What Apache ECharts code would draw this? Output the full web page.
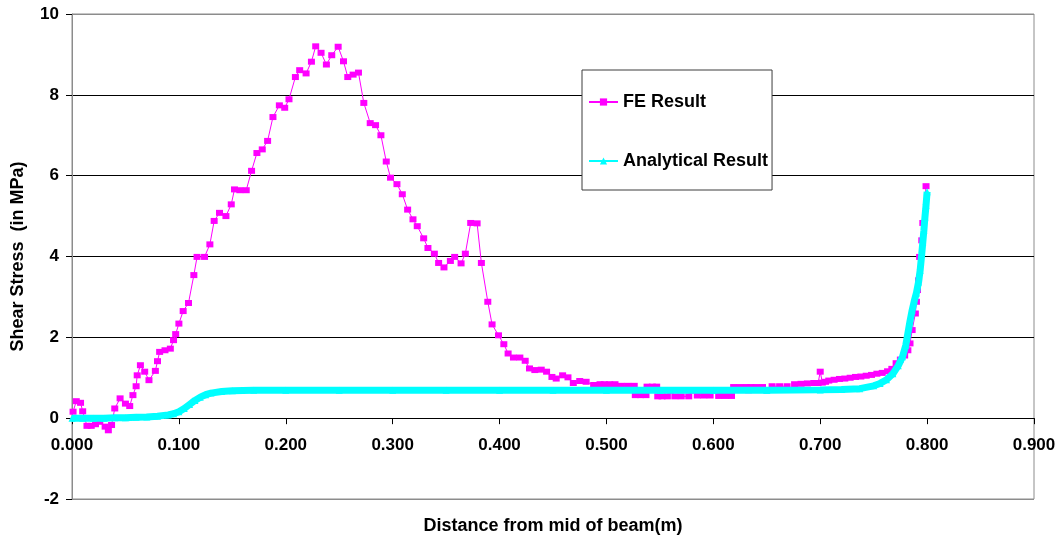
<!DOCTYPE html>
<html>
<head>
<meta charset="utf-8">
<script src="https://cdn.jsdelivr.net/npm/echarts@6/dist/echarts.min.js"></script>
<style>
  html, body { margin: 0; padding: 0; background: #ffffff; }
  #chart { width: 1060px; height: 543px; }
</style>
</head>
<body>
<div id="chart"></div>
<script>
// Shear stress along the beam: finite element result vs analytical solution
const feX = [
  0.001, 0.004, 0.008, 0.010, 0.014, 0.018, 0.022, 0.026, 0.031, 0.034,
  0.037, 0.040, 0.045, 0.050, 0.054, 0.057, 0.060, 0.061, 0.064, 0.068,
  0.072, 0.078, 0.080, 0.082, 0.087, 0.092, 0.095, 0.097, 0.100, 0.104,
  0.109, 0.114, 0.117, 0.124, 0.129, 0.133, 0.138, 0.144, 0.149, 0.152,
  0.157, 0.163, 0.168, 0.173, 0.178, 0.183, 0.188, 0.194, 0.199, 0.203,
  0.209, 0.213, 0.219, 0.224, 0.228, 0.233, 0.238, 0.243, 0.249, 0.254,
  0.258, 0.263, 0.268, 0.273, 0.279, 0.284, 0.289, 0.294, 0.298, 0.304,
  0.309, 0.314, 0.319, 0.323, 0.329, 0.333, 0.339, 0.343, 0.348, 0.354,
  0.358, 0.364, 0.368, 0.373, 0.379, 0.383, 0.389, 0.393, 0.399, 0.404,
  0.408, 0.413, 0.419, 0.424, 0.428, 0.433, 0.439, 0.444, 0.449, 0.453,
  0.459, 0.464, 0.469, 0.475, 0.481, 0.488, 0.494, 0.498, 0.503, 0.508,
  0.514, 0.520, 0.526, 0.527, 0.532, 0.537, 0.538, 0.543, 0.547, 0.548,
  0.552, 0.557, 0.560, 0.564, 0.570, 0.577, 0.580, 0.585, 0.591, 0.597,
  0.600, 0.605, 0.611, 0.617, 0.619, 0.625, 0.631, 0.633, 0.635, 0.640,
  0.646, 0.650, 0.655, 0.662, 0.669, 0.672, 0.676, 0.682, 0.688, 0.694,
  0.698, 0.700, 0.702, 0.705, 0.708, 0.713, 0.718, 0.723, 0.728, 0.733,
  0.738, 0.743, 0.748, 0.753, 0.758, 0.763, 0.767, 0.771, 0.775, 0.779,
  0.782, 0.784, 0.786, 0.789, 0.790, 0.791, 0.792, 0.793, 0.795, 0.796,
  0.799
];
const feY = [
  0.16, 0.42, 0.38, 0.17, -0.19, -0.19, -0.15, -0.09, -0.21, -0.30,
  -0.17, 0.24, 0.49, 0.36, 0.30, 0.57, 0.79, 1.06, 1.31, 1.15,
  0.94, 1.17, 1.41, 1.64, 1.68, 1.72, 1.93, 2.08, 2.34, 2.65,
  2.85, 3.54, 3.99, 3.99, 4.30, 4.88, 5.08, 5.00, 5.29, 5.66,
  5.64, 5.64, 6.12, 6.56, 6.65, 6.86, 7.45, 7.74, 7.68, 7.89,
  8.44, 8.61, 8.53, 8.82, 9.20, 9.04, 8.75, 8.98, 9.19, 8.83,
  8.44, 8.50, 8.55, 7.80, 7.30, 7.25, 7.00, 6.35, 5.95, 5.79,
  5.54, 5.16, 4.92, 4.75, 4.45, 4.21, 4.07, 3.84, 3.73, 3.89,
  3.99, 3.83, 4.07, 4.83, 4.82, 3.84, 2.88, 2.32, 2.05, 1.83,
  1.60, 1.50, 1.50, 1.42, 1.23, 1.19, 1.20, 1.15, 1.02, 0.98,
  1.06, 1.01, 0.87, 0.92, 0.90, 0.82, 0.84, 0.84, 0.84, 0.84,
  0.80, 0.80, 0.80, 0.57, 0.57, 0.57, 0.78, 0.78, 0.78, 0.54,
  0.54, 0.54, 0.68, 0.54, 0.54, 0.54, 0.68, 0.56, 0.56, 0.56,
  0.68, 0.55, 0.55, 0.55, 0.77, 0.77, 0.77, 0.69, 0.77, 0.77,
  0.77, 0.69, 0.79, 0.79, 0.79, 0.70, 0.84, 0.85, 0.86, 0.87,
  0.87, 1.15, 0.88, 0.90, 0.93, 0.95, 0.97, 0.98, 1.00, 1.02,
  1.03, 1.05, 1.07, 1.10, 1.12, 1.16, 1.22, 1.36, 1.45, 1.55,
  1.68, 1.85, 2.18, 2.59, 2.88, 3.17, 3.41, 3.99, 4.40, 4.83,
  5.74
];

const anX = [
  0.000, 0.010, 0.020, 0.030, 0.040, 0.050, 0.060, 0.070, 0.080, 0.090,
  0.095, 0.100, 0.105, 0.110, 0.115, 0.120, 0.125, 0.130, 0.140, 0.150,
  0.170, 0.200, 0.250, 0.300, 0.350, 0.400, 0.450, 0.500, 0.550, 0.600,
  0.650, 0.700, 0.720, 0.737, 0.750, 0.756, 0.762, 0.768, 0.773, 0.777,
  0.780, 0.782, 0.784, 0.786, 0.788, 0.790, 0.792, 0.7935, 0.795, 0.796,
  0.797, 0.798, 0.799, 0.800
];
const anY = [
  0.00, 0.00, 0.00, 0.00, 0.01, 0.01, 0.02, 0.03, 0.05, 0.08,
  0.11, 0.16, 0.24, 0.34, 0.44, 0.52, 0.58, 0.62, 0.66, 0.68,
  0.69, 0.69, 0.69, 0.69, 0.69, 0.69, 0.69, 0.69, 0.69, 0.69,
  0.69, 0.70, 0.71, 0.73, 0.80, 0.86, 0.95, 1.10, 1.30, 1.52,
  1.80, 2.10, 2.40, 2.67, 2.90, 3.10, 3.37, 3.66, 4.07, 4.36,
  4.65, 4.98, 5.27, 5.60
];

const seriesNames = ['FE Result', 'Analytical Result'];
const xAxisTitle = 'Distance from mid of beam(m)';
const yAxisTitle = 'Shear Stress  (in MPa)';

const zip = (xs, ys) => xs.map((x, i) => [x, ys[i]]);

const FONT = '"Liberation Sans", Arial, sans-serif';
const chart = echarts.init(document.getElementById('chart'), null, { renderer: 'canvas' });

chart.setOption({
  animation: false,
  backgroundColor: '#ffffff',
  grid: {
    left: 72, right: 26, top: 14, bottom: 44,
    containLabel: false,
    outerBoundsMode: 'none',
    show: true, borderColor: '#8c8c8c', borderWidth: 1, backgroundColor: 'transparent'
  },
  legend: {
    orient: 'vertical',
    left: 582, top: 70,
    padding: [23, 4, 20, 6],
    itemGap: 41,
    itemWidth: 29, itemHeight: 9,
    backgroundColor: '#ffffff',
    borderColor: '#3c3c3c', borderWidth: 1, borderRadius: 0,
    textStyle: { fontFamily: FONT, fontSize: 18, fontWeight: 'bold', color: '#000' },
    data: seriesNames
  },
  xAxis: {
    type: 'value',
    min: 0, max: 0.9, interval: 0.1,
    axisLine: { onZero: true, lineStyle: { color: '#000', width: 1 } },
    axisTick: { show: true, length: 6, lineStyle: { color: '#000' } },
    axisLabel: {
      // labels sit just under the zero line, above the -2 gridline
      margin: -62,
      fontFamily: FONT, fontSize: 17, fontWeight: 'bold', color: '#000',
      formatter: v => v.toFixed(3)
    },
    splitLine: { show: false },
    name: xAxisTitle,
    nameLocation: 'middle',
    nameGap: 18,
    nameTextStyle: { fontFamily: FONT, fontSize: 18, fontWeight: 'bold', color: '#000' }
  },
  yAxis: {
    type: 'value',
    min: -2, max: 10, interval: 2,
    axisLine: { show: true, onZero: false, lineStyle: { color: '#8c8c8c', width: 1 } },
    axisTick: { show: true, length: 6, lineStyle: { color: '#000' } },
    axisLabel: {
      margin: 13,
      fontFamily: FONT, fontSize: 17, fontWeight: 'bold', color: '#000'
    },
    splitLine: {
      show: true,
      lineStyle: {
        color: ['#8c8c8c', '#000', '#000', '#000', '#000', '#000', '#8c8c8c'],
        width: 1
      }
    },
    name: yAxisTitle,
    nameLocation: 'middle',
    nameGap: 45,
    nameTextStyle: { fontFamily: FONT, fontSize: 18, fontWeight: 'bold', color: '#000' }
  },
  series: [
    {
      name: seriesNames[0],
      type: 'line',
      data: zip(feX, feY),
      symbol: 'rect',
      symbolSize: [7, 6],
      showAllSymbol: true,
      color: '#ff00ff',
      lineStyle: { color: '#ff00ff', width: 1 },
      itemStyle: { color: '#ff00ff' },
      z: 2
    },
    {
      name: seriesNames[1],
      type: 'line',
      data: zip(anX, anY),
      symbol: 'triangle',
      symbolSize: 7,
      showAllSymbol: true,
      color: '#00ffff',
      lineStyle: { color: '#00ffff', width: 7 },
      itemStyle: { color: '#00ffff' },
      z: 3
    }
  ]
});
</script>
</body>
</html>
